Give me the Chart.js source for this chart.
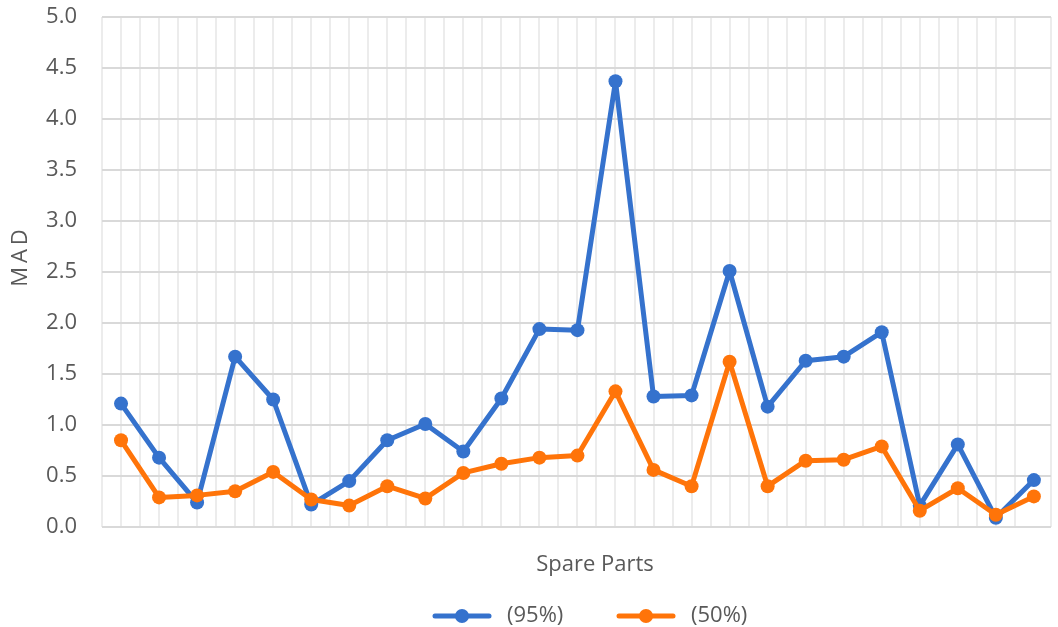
<!DOCTYPE html>
<html>
<head>
<meta charset="utf-8">
<script src="https://cdn.jsdelivr.net/npm/chart.js@4.4.1/dist/chart.umd.min.js"></script>
<style>
  html, body { margin: 0; padding: 0; background: #ffffff; }
  #wrap { width: 1058px; height: 627px; position: relative; }
</style>
</head>
<body>
<div id="wrap"><canvas id="c" width="1058" height="627"></canvas></div>
<script>
// Spare part index along the x axis
const parts = [1, 2, 3, 4, 5, 6, 7, 8, 9, 10, 11, 12, 13, 14, 15, 16, 17, 18, 19, 20, 21, 22, 23, 24, 25];

// Mean absolute deviation per spare part
const mad95 = [1.21, 0.68, 0.24, 1.67, 1.25, 0.22, 0.45, 0.85, 1.01, 0.74, 1.26, 1.94, 1.93, 4.37, 1.28, 1.29, 2.51, 1.18, 1.63, 1.67, 1.91, 0.21, 0.81, 0.09, 0.46];
const mad50 = [0.85, 0.29, 0.31, 0.35, 0.54, 0.27, 0.21, 0.40, 0.28, 0.53, 0.62, 0.68, 0.70, 1.33, 0.56, 0.40, 1.62, 0.40, 0.65, 0.66, 0.79, 0.16, 0.38, 0.12, 0.30];

const seriesNames = ['(95%)', '(50%)'];
const yTicks = [0, 0.5, 1, 1.5, 2, 2.5, 3, 3.5, 4, 4.5, 5];
const xTitle = 'Spare Parts';
const yTitle = 'MAD';

const BLUE = '#3572CD';
const ORANGE = '#FF7409';
const TEXT = '#595959';
const FONT = '"Open Sans", "Noto Sans", sans-serif';
const FONT_SIZE = 22;

const toPoints = vals => vals.map((v, i) => ({ x: parts[i] - 1, y: v }));

// Axis titles and a legend with line + marker swatches
const decorations = {
  id: 'decorations',
  afterDraw(chart) {
    const { ctx } = chart;
    ctx.save();
    ctx.fillStyle = TEXT;
    ctx.font = FONT_SIZE + 'px ' + FONT;
    ctx.textBaseline = 'middle';

    ctx.textAlign = 'center';
    ctx.fillText(xTitle, 595, 565);

    ctx.save();
    ctx.translate(21, 258);
    ctx.rotate(-Math.PI / 2);
    ctx.letterSpacing = '4px';
    ctx.fillText(yTitle, 2, 0);
    ctx.restore();

    ctx.textAlign = 'left';
    const legendY = 616;
    let x = 433;
    chart.data.datasets.forEach((ds) => {
      ctx.strokeStyle = ds.borderColor;
      ctx.lineWidth = 5;
      ctx.lineCap = 'round';
      ctx.beginPath();
      ctx.moveTo(x + 2, legendY);
      ctx.lineTo(x + 56, legendY);
      ctx.stroke();
      ctx.fillStyle = ds.borderColor;
      ctx.beginPath();
      ctx.arc(x + 29, legendY, 7, 0, Math.PI * 2);
      ctx.fill();
      ctx.fillStyle = TEXT;
      ctx.fillText(ds.label, x + 74, legendY);
      x += 184;
    });
    ctx.restore();
  }
};

const lineStyle = color => ({
  borderColor: color,
  backgroundColor: color,
  borderWidth: 5,
  borderJoinStyle: 'round',
  borderCapStyle: 'round',
  pointRadius: 7,
  pointBorderWidth: 0,
  pointBackgroundColor: color,
  tension: 0
});

new Chart(document.getElementById('c'), {
  type: 'line',
  data: {
    datasets: [
      Object.assign({ label: seriesNames[0], data: toPoints(mad95), order: 2 }, lineStyle(BLUE)),
      Object.assign({ label: seriesNames[1], data: toPoints(mad50), order: 1 }, lineStyle(ORANGE))
    ]
  },
  options: {
    responsive: false,
    animation: false,
    events: [],
    layout: { padding: { top: 17, right: 0, left: 0, bottom: 0 } },
    plugins: {
      legend: { display: false },
      tooltip: { enabled: false },
      title: { display: false }
    },
    scales: {
      x: {
        type: 'linear',
        min: -0.5,
        max: 24.45,
        afterFit(scale) { scale.height = 100; },
        ticks: { display: false, stepSize: 0.5 },
        grid: { color: '#ECECEC', lineWidth: 2, drawTicks: false },
        border: { display: false }
      },
      y: {
        min: 0,
        max: 5,
        afterFit(scale) { scale.width = 102; },
        afterBuildTicks(scale) { scale.ticks = yTicks.map(v => ({ value: v })); },
        ticks: {
          padding: 0,
          color: TEXT,
          font: { family: FONT, size: FONT_SIZE },
          callback: v => Number(v).toFixed(1)
        },
        grid: {
          color: '#D9D9D9',
          lineWidth: 2,
          drawTicks: true,
          tickLength: 25,
          tickColor: 'rgba(0,0,0,0)'
        },
        border: { display: false }
      }
    }
  },
  plugins: [decorations]
});
</script>
</body>
</html>
